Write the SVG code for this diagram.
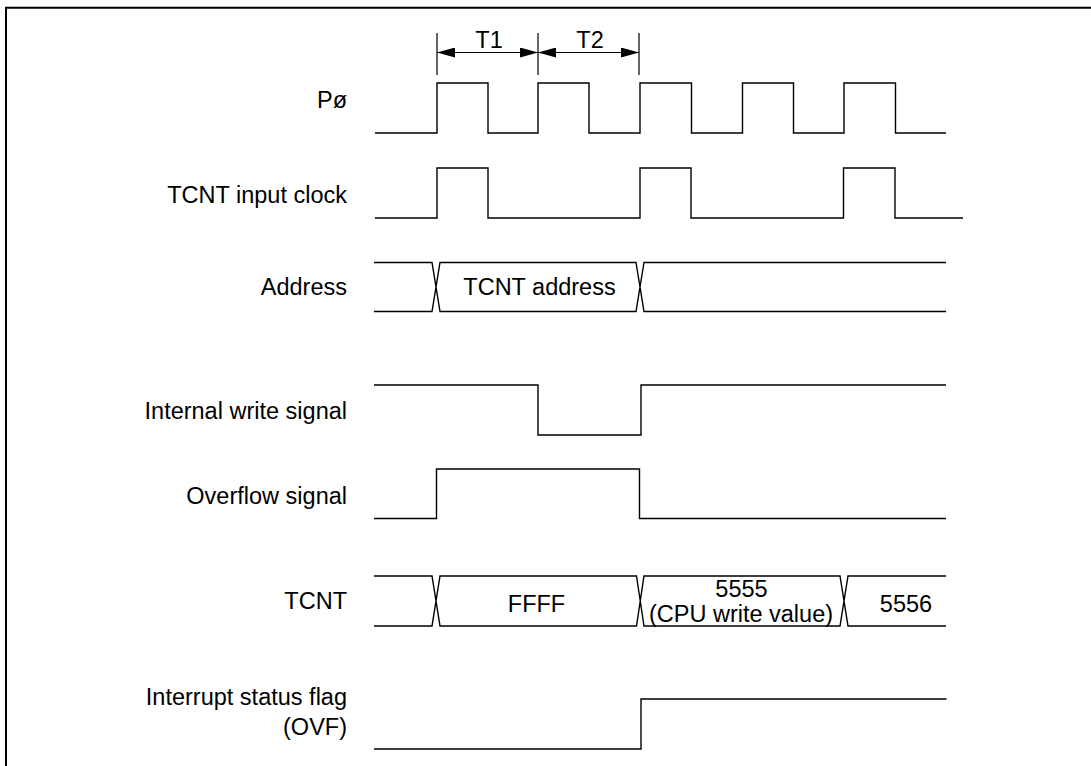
<svg xmlns="http://www.w3.org/2000/svg" width="1091" height="766" viewBox="0 0 1091 766">
<style>
.sig{fill:none;stroke:#000;stroke-width:1.4;stroke-linejoin:miter}
.lbl{font-family:"Liberation Sans",Arial,sans-serif;font-size:23.5px;fill:#000;text-anchor:end}
.val{font-family:"Liberation Sans",Arial,sans-serif;font-size:23.5px;fill:#000;text-anchor:middle}
.dim{fill:none;stroke:#000;stroke-width:1.2}
</style>
<defs>
<marker id="ah" viewBox="0 0 18 10" refX="18" refY="5" markerWidth="18" markerHeight="10" markerUnits="userSpaceOnUse" orient="auto-start-reverse">
<path d="M0,0 L18,5 L0,10 Z" fill="#000"/>
</marker>
</defs>
<rect width="1091" height="766" fill="#fff"/>
<path d="M6,800 V7.7 H1100" fill="none" stroke="#000" stroke-width="2"/>

<g id="timing-dimension">
<path class="dim" d="M437,33 V75 M538,33 V75 M639,33 V75"/>
<line class="dim" x1="437" y1="52.5" x2="538" y2="52.5" marker-start="url(#ah)" marker-end="url(#ah)"/>
<line class="dim" x1="538" y1="52.5" x2="639" y2="52.5" marker-start="url(#ah)" marker-end="url(#ah)"/>
<text class="val" x="489" y="48">T1</text>
<text class="val" x="590" y="48">T2</text>
</g>

<g id="p-clock">
<text class="lbl" x="347" y="108">Pø</text>
<path class="sig" d="M375,133 H437 V83 H488 V133 H538 V83 H589 V133 H640 V83 H691.5 V133 H742.5 V83 H793.5 V133 H844 V83 H895.5 V133 H946"/>
</g>

<g id="tcnt-input-clock">
<text class="lbl" x="347" y="203">TCNT input clock</text>
<path class="sig" d="M375,218 H437 V168 H488 V218 H640 V168 H691 V218 H843.5 V168 H895 V218 H963"/>
</g>

<g id="address">
<text class="lbl" x="347" y="295">Address</text>
<path class="sig" d="M374,262.5 H432 L440,311.5 H636 L644,262.5 H946 M374,311.5 H432 L440,262.5 H636 L644,311.5 H946"/>
<text class="val" x="539.5" y="295">TCNT address</text>
</g>

<g id="internal-write-signal">
<text class="lbl" x="347" y="419">Internal write signal</text>
<path class="sig" d="M374,385 H538 V435 H641 V385 H946"/>
</g>

<g id="overflow-signal">
<text class="lbl" x="347" y="504">Overflow signal</text>
<path class="sig" d="M374,518.5 H436.5 V469 H639.5 V518.5 H946"/>
</g>

<g id="tcnt">
<text class="lbl" x="347" y="609">TCNT</text>
<path class="sig" d="M374,576 H432 L440,626 H636.5 L644,576 H840 L848,626 H946 M374,626 H432 L440,576 H636.5 L644,626 H840 L848,576 H946"/>
<text class="val" x="536.5" y="611.5">FFFF</text>
<text class="val" x="741.5" y="596.5">5555</text>
<text class="val" x="741" y="621.5">(CPU write value)</text>
<text class="val" x="906" y="611.5">5556</text>
</g>

<g id="interrupt-status-flag">
<text class="lbl" x="347" y="705">Interrupt status flag</text>
<text class="lbl" x="347" y="735">(OVF)</text>
<path class="sig" d="M374,749 H641 V699 H946.5"/>
</g>
</svg>
